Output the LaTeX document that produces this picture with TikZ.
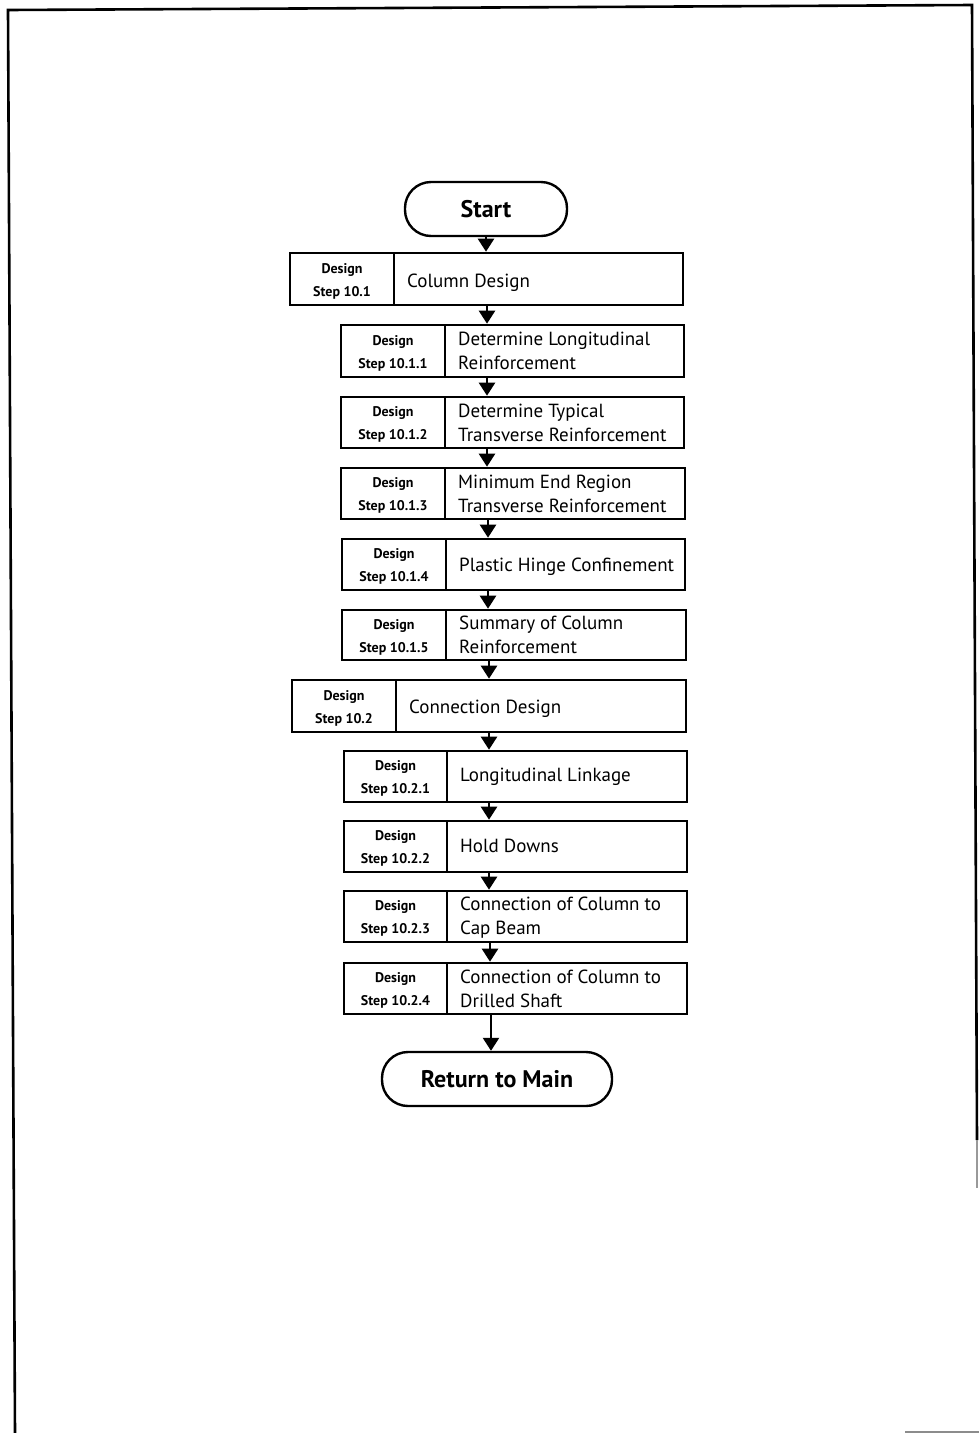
\documentclass[tikz,border=0pt]{standalone}
\usepackage{fontspec}
\setmainfont{PT Sans}
\usetikzlibrary{arrows.meta,fit,calc}

\tikzset{
  boxframe/.style={draw, line width=2.6pt, inner sep=0pt},
  divline/.style={line width=2.2pt},
  terminal/.style={draw, line width=2.4pt, inner sep=0pt, rounded corners=26pt},
  termtext/.style={font=\fontsize{24}{26}\selectfont\bfseries},
  steplabel/.style={align=center, inner sep=0pt, font=\fontsize{14}{23}\selectfont\bfseries},
  steptext/.style={align=left, inner sep=0pt, font=\fontsize{19}{24}\selectfont},
  flow/.style={line width=2.4pt, -{Triangle[width=16pt,length=13pt]}},
  pageframe/.style={line width=2.6pt}
}

% #1 name, #2 left, #3 top, #4 right, #5 bottom, #6 divider x, #7 step number,
% #8 text, #9 vertical offset of the text
\newcommand{\flowstep}[9]{%
  \node[boxframe, fit={(#2,#3) (#4,#5)}] (#1) {};
  \draw[divline] (#6,#3) -- (#6,#5);
  \node[steplabel] (#1-id) at ({(#2+#6)/2},{(#3+#5)/2+2}) {Design\\Step #7};
  \node[steptext, anchor=west] (#1-txt) at ({#6+13},{(#3+#5)/2+#9}) {#8};
}

\begin{document}
\begin{tikzpicture}[x=1pt,y=-1pt]
\useasboundingbox (0,0) rectangle (979,1433);

% page border
\draw[pageframe] (15,1433) -- (8,10) -- (972,5) -- (977,1140);
\draw[line width=2pt, black!40] (977,1140) -- (977,1188);
\draw[line width=1.2pt, black!45] (905,1432) -- (979,1432);

% terminals
\node[terminal, fit={(405,182) (567,236)}] (start) {};
\node[termtext] at (start.center) {Start};
\node[terminal, fit={(382,1052) (612,1106)}] (ret) {};
\node[termtext] at (ret.center) {Return to Main};

% design steps
\flowstep{b1}{290}{253}{683}{305}{394}{10.1}{Column Design}{4}
\flowstep{b11}{341}{325}{684}{377}{445}{10.1.1}{Determine Longitudinal\\Reinforcement}{0}
\flowstep{b12}{341}{397}{684}{448}{445}{10.1.2}{Determine Typical\\Transverse Reinforcement}{0}
\flowstep{b13}{341}{468}{685}{519}{445}{10.1.3}{Minimum End Region\\Transverse Reinforcement}{0}
\flowstep{b14}{342}{539}{685}{590}{446}{10.1.4}{Plastic Hinge Confinement}{2}
\flowstep{b15}{342}{610}{686}{660}{446}{10.1.5}{Summary of Column\\Reinforcement}{0}
\flowstep{b2}{292}{680}{686}{732}{396}{10.2}{Connection Design}{3}
\flowstep{b21}{344}{751}{687}{802}{447}{10.2.1}{Longitudinal Linkage}{0}
\flowstep{b22}{344}{821}{687}{872}{447}{10.2.2}{Hold Downs}{-1}
\flowstep{b23}{344}{891}{687}{942}{447}{10.2.3}{Connection of Column to\\Cap Beam}{1}
\flowstep{b24}{344}{963}{687}{1014}{447}{10.2.4}{Connection of Column to\\Drilled Shaft}{0}

% connectors
\draw[flow] (start.south -| 486,0) -- (b1.north -| 486,0);
\draw[flow] (b1.south -| 487,0) -- (b11.north -| 487,0);
\draw[flow] (b11.south -| 487,0) -- (b12.north -| 487,0);
\draw[flow] (b12.south -| 487,0) -- (b13.north -| 487,0);
\draw[flow] (b13.south -| 488,0) -- (b14.north -| 488,0);
\draw[flow] (b14.south -| 488,0) -- (b15.north -| 488,0);
\draw[flow] (b15.south -| 489,0) -- (b2.north -| 489,0);
\draw[flow] (b2.south -| 489,0) -- (b21.north -| 489,0);
\draw[flow] (b21.south -| 489,0) -- (b22.north -| 489,0);
\draw[flow] (b22.south -| 489,0) -- (b23.north -| 489,0);
\draw[flow] (b23.south -| 490,0) -- (b24.north -| 490,0);
\draw[flow] (b24.south -| 491,0) -- (ret.north -| 491,0);
\end{tikzpicture}
\end{document}
